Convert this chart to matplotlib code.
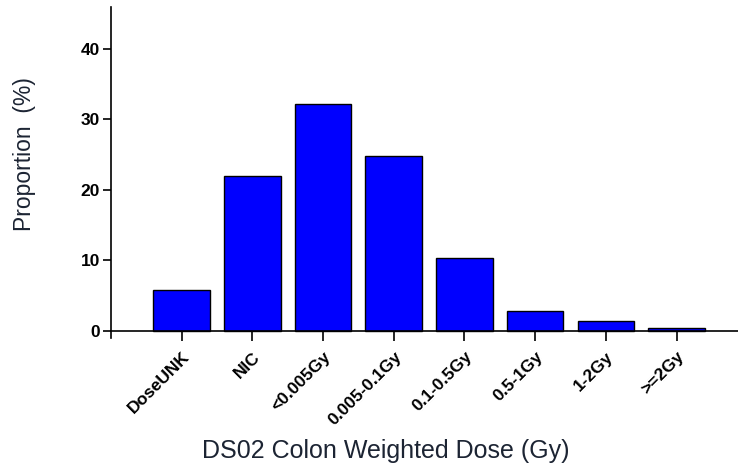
import matplotlib.pyplot as plt
import numpy as np

# Dose categories and proportion of subjects (%)
categories = ['DoseUNK', 'NIC', '<0.005Gy', '0.005-0.1Gy', '0.1-0.5Gy', '0.5-1Gy', '1-2Gy', '>=2Gy']
proportion = [5.8, 22.0, 32.2, 24.8, 10.35, 2.8, 1.4, 0.45]
yticks = [0, 10, 20, 30, 40]

plt.rcParams['font.family'] = ['Liberation Sans', 'DejaVu Sans']

fig = plt.figure(figsize=(7.38, 4.68), dpi=100)
ax = fig.add_axes([0.1504, 0.2778, 0.8496, 0.708])

x = np.arange(len(categories))
ax.bar(x, proportion, width=0.8, color='#0000ff', edgecolor='black', linewidth=1.0)

ax.set_xlim(-1.0, 7.87)
ax.set_ylim(-1, 46)

# x axis sits on zero, y spine runs a little below it
ax.spines['bottom'].set_position(('data', 0))
ax.spines['top'].set_visible(False)
ax.spines['right'].set_visible(False)
ax.spines['left'].set_bounds(-1, 46)
for s in ['bottom', 'left']:
    ax.spines[s].set_linewidth(1.2)

ax.set_yticks(yticks)
ax.set_yticklabels([str(v) for v in yticks], fontsize=12.5, fontweight='bold')
ax.set_xticks(x)
ax.set_xticklabels(categories, fontsize=12.5, fontweight='bold', rotation=45,
                   ha='right', va='top', rotation_mode='anchor')
ax.tick_params(axis='y', direction='out', length=6, width=1.2, pad=2)
ax.tick_params(axis='x', direction='out', length=7, width=1.2, pad=6)

fig.text(25 / 738, 1 - 154 / 468, 'Proportion  (%)', fontsize=16.5, color='#1c2433',
         rotation=90, ha='center', va='center')
fig.text(386 / 738, 1 - 451 / 468, 'DS02 Colon Weighted Dose (Gy)', fontsize=18,
         color='#1c2433', ha='center', va='center')

fig.savefig('out.png', dpi=100)
